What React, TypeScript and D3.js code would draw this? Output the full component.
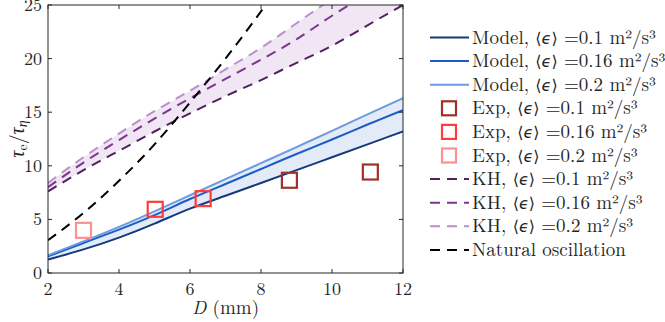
import React from 'react';
import * as d3 from 'd3';

// D (mm) sample points for the model / KH curves
const dGrid = [2, 3, 4, 5, 6, 7, 8, 9, 10, 11, 12];

const model01 = [1.25, 2.2, 3.3, 4.6, 6.0, 7.2, 8.4, 9.6, 10.8, 12.0, 13.2];
const model016 = [1.55, 2.8, 4.05, 5.4, 6.9, 8.3, 9.7, 11.1, 12.45, 13.85, 15.2];
const model02 = [1.65, 2.95, 4.3, 5.75, 7.25, 8.75, 10.25, 11.75, 13.25, 14.8, 16.3];

const kh01 = [7.6, 9.6, 11.4, 13.2, 14.9, 16.5, 18.0, 19.6, 21.2, 23.1, 25.0];
const kh016 = [8.0, 10.3, 12.4, 14.4, 16.3, 18.1, 19.9, 21.8, 24.0, 26.0, 28.0];
const kh02 = [8.4, 10.8, 13.0, 15.1, 17.0, 19.0, 21.0, 23.3, 25.6, 28.0, 30.4];

const natD = [2, 3, 4, 5, 6, 7, 8, 8.5];
const natVal = [3.05, 5.6, 8.6, 12.0, 15.9, 20.0, 24.4, 26.8];

const expD01 = [8.8, 11.08];
const expV01 = [8.65, 9.42];
const expD016 = [5.02, 6.37];
const expV016 = [5.94, 6.94];
const expD02 = [3.0];
const expV02 = [3.98];

const xTicks = [2, 4, 6, 8, 10, 12];
const yTicks = [0, 5, 10, 15, 20, 25];

const C = {
  m01: '#143a7c',
  m016: '#1c5cc4',
  m02: '#6c9be0',
  e01: '#a0302a',
  e016: '#ff3c3c',
  e02: '#ff9090',
  k01: '#52205f',
  k016: '#7c3590',
  k02: '#bb8fcc',
  nat: '#000000',
  mFill: '#e2ebf7',
  kFill: '#f1e6f4',
};

const W = 665;
const H = 322;
const m = { left: 48, right: 403, top: 5, bottom: 273 };
const FONT = "'Latin Modern Roman', serif";
const SYM = "'DejaVu Sans', sans-serif";
const txt = { fontFamily: FONT };
const DASH = '10,7';

const x = d3.scaleLinear().domain([2, 12]).range([m.left, m.right]);
const y = d3.scaleLinear().domain([0, 25]).range([m.bottom, m.top]);

const line = d3
  .line<[number, number]>()
  .x((d) => x(d[0]))
  .y((d) => y(d[1]))
  .curve(d3.curveNatural);

const band = d3
  .area<[number, number, number]>()
  .x((d) => x(d[0]))
  .y0((d) => y(d[1]))
  .y1((d) => y(d[2]))
  .curve(d3.curveNatural);

const pts = (xs: number[], ys: number[]) => xs.map((v, i) => [v, ys[i]] as [number, number]);
const bandPts = (lo: number[], hi: number[]) =>
  dGrid.map((v, i) => [v, lo[i], hi[i]] as [number, number, number]);

const Label = ({ prefix, val }: { prefix: string; val: string }) => (
  <>
    {`${prefix}, `}
    <tspan style={{ fontFamily: SYM }} fontSize={16}>
      ⟨<tspan fontStyle="italic">ϵ</tspan>⟩
    </tspan>
    {` =${val} m²/s³`}
  </>
);

const legendItems = [
  { kind: 'line', color: C.m01, prefix: 'Model', val: '0.1' },
  { kind: 'line', color: C.m016, prefix: 'Model', val: '0.16' },
  { kind: 'line', color: C.m02, prefix: 'Model', val: '0.2' },
  { kind: 'sq', color: C.e01, prefix: 'Exp', val: '0.1' },
  { kind: 'sq', color: C.e016, prefix: 'Exp', val: '0.16' },
  { kind: 'sq', color: C.e02, prefix: 'Exp', val: '0.2' },
  { kind: 'dash', color: C.k01, prefix: 'KH', val: '0.1' },
  { kind: 'dash', color: C.k016, prefix: 'KH', val: '0.16' },
  { kind: 'dash', color: C.k02, prefix: 'KH', val: '0.2' },
  { kind: 'dash', color: C.nat, prefix: '', val: '' },
];

const SQ = 15;

export default function App() {
  const squares = [
    { xs: expD01, ys: expV01, c: C.e01 },
    { xs: expD016, ys: expV016, c: C.e016 },
    { xs: expD02, ys: expV02, c: C.e02 },
  ];
  return (
    <svg
      width={W}
      height={H}
      style={{ position: 'absolute', left: 0, top: 0, background: '#fff' }}
    >
      <defs>
        <clipPath id="plot">
          <rect x={m.left} y={m.top} width={m.right - m.left} height={m.bottom - m.top} />
        </clipPath>
      </defs>
      <g clipPath="url(#plot)">
        <path d={band(bandPts(model01, model02)) ?? ''} fill={C.mFill} />
        <path d={band(bandPts(kh01, kh02)) ?? ''} fill={C.kFill} />
        <path d={line(pts(dGrid, model01)) ?? ''} fill="none" stroke={C.m01} strokeWidth={2} />
        <path d={line(pts(dGrid, model016)) ?? ''} fill="none" stroke={C.m016} strokeWidth={2} />
        <path d={line(pts(dGrid, model02)) ?? ''} fill="none" stroke={C.m02} strokeWidth={2} />
        <path d={line(pts(dGrid, kh01)) ?? ''} fill="none" stroke={C.k01} strokeWidth={2} strokeDasharray={DASH} />
        <path d={line(pts(dGrid, kh016)) ?? ''} fill="none" stroke={C.k016} strokeWidth={2} strokeDasharray={DASH} />
        <path d={line(pts(dGrid, kh02)) ?? ''} fill="none" stroke={C.k02} strokeWidth={2} strokeDasharray={DASH} />
        <path d={line(pts(natD, natVal)) ?? ''} fill="none" stroke={C.nat} strokeWidth={2} strokeDasharray={DASH} />
      </g>
      {squares.map((s, j) =>
        s.xs.map((v, i) => (
          <rect
            key={`${j}-${i}`}
            x={x(v) - SQ / 2}
            y={y(s.ys[i]) - SQ / 2}
            width={SQ}
            height={SQ}
            fill="none"
            stroke={s.c}
            strokeWidth={2.2}
          />
        ))
      )}
      {/* axes box */}
      <rect
        x={m.left}
        y={m.top}
        width={m.right - m.left}
        height={m.bottom - m.top}
        fill="none"
        stroke="#262626"
        strokeWidth={1}
      />
      {xTicks.map((t) => (
        <g key={`x${t}`}>
          <line x1={x(t)} x2={x(t)} y1={m.bottom} y2={m.bottom - 4} stroke="#262626" />
          <line x1={x(t)} x2={x(t)} y1={m.top} y2={m.top + 4} stroke="#262626" />
          <text x={x(t)} y={295} textAnchor="middle" fontSize={18} fill="#262626" style={txt}>
            {t}
          </text>
        </g>
      ))}
      {yTicks.map((t) => (
        <g key={`y${t}`}>
          <line x1={m.left} x2={m.left + 4} y1={y(t)} y2={y(t)} stroke="#262626" />
          <line x1={m.right} x2={m.right - 4} y1={y(t)} y2={y(t)} stroke="#262626" />
          <text x={42} y={y(t) + 6} textAnchor="end" fontSize={18} fill="#262626" style={txt}>
            {t}
          </text>
        </g>
      ))}
      <text x={(m.left + m.right) / 2} y={314} textAnchor="middle" fontSize={19} fill="#262626" style={txt}>
        <tspan fontStyle="italic">D</tspan> (mm)
      </text>
      <text
        transform={`translate(24,${(m.top + m.bottom) / 2}) rotate(-90)`}
        textAnchor="middle"
        fontSize={20}
        fill="#262626"
        style={txt}
      >
        <tspan fontStyle="italic">τ</tspan>
        <tspan fontSize={14} dy={3}>e</tspan>
        <tspan dy={-3}>/</tspan>
        <tspan fontStyle="italic">τ</tspan>
        <tspan fontSize={14} fontStyle="italic" dy={3}>η</tspan>
      </text>
      {/* legend */}
      {legendItems.map((it, i) => {
        const ly = 37.5 + i * 23.6;
        return (
          <g key={`l${i}`}>
            {it.kind === 'sq' ? (
              <rect x={449 - 7} y={ly - 7} width={14} height={14} fill="none" stroke={it.color} strokeWidth={2.2} />
            ) : (
              <line
                x1={430}
                x2={469}
                y1={ly}
                y2={ly}
                stroke={it.color}
                strokeWidth={2}
                strokeDasharray={it.kind === 'dash' ? DASH : undefined}
              />
            )}
            <text x={472} y={ly + 6} fontSize={19} fill="#262626" style={txt}>
              {it.prefix ? <Label prefix={it.prefix} val={it.val} /> : 'Natural oscillation'}
            </text>
          </g>
        );
      })}
    </svg>
  );
}
